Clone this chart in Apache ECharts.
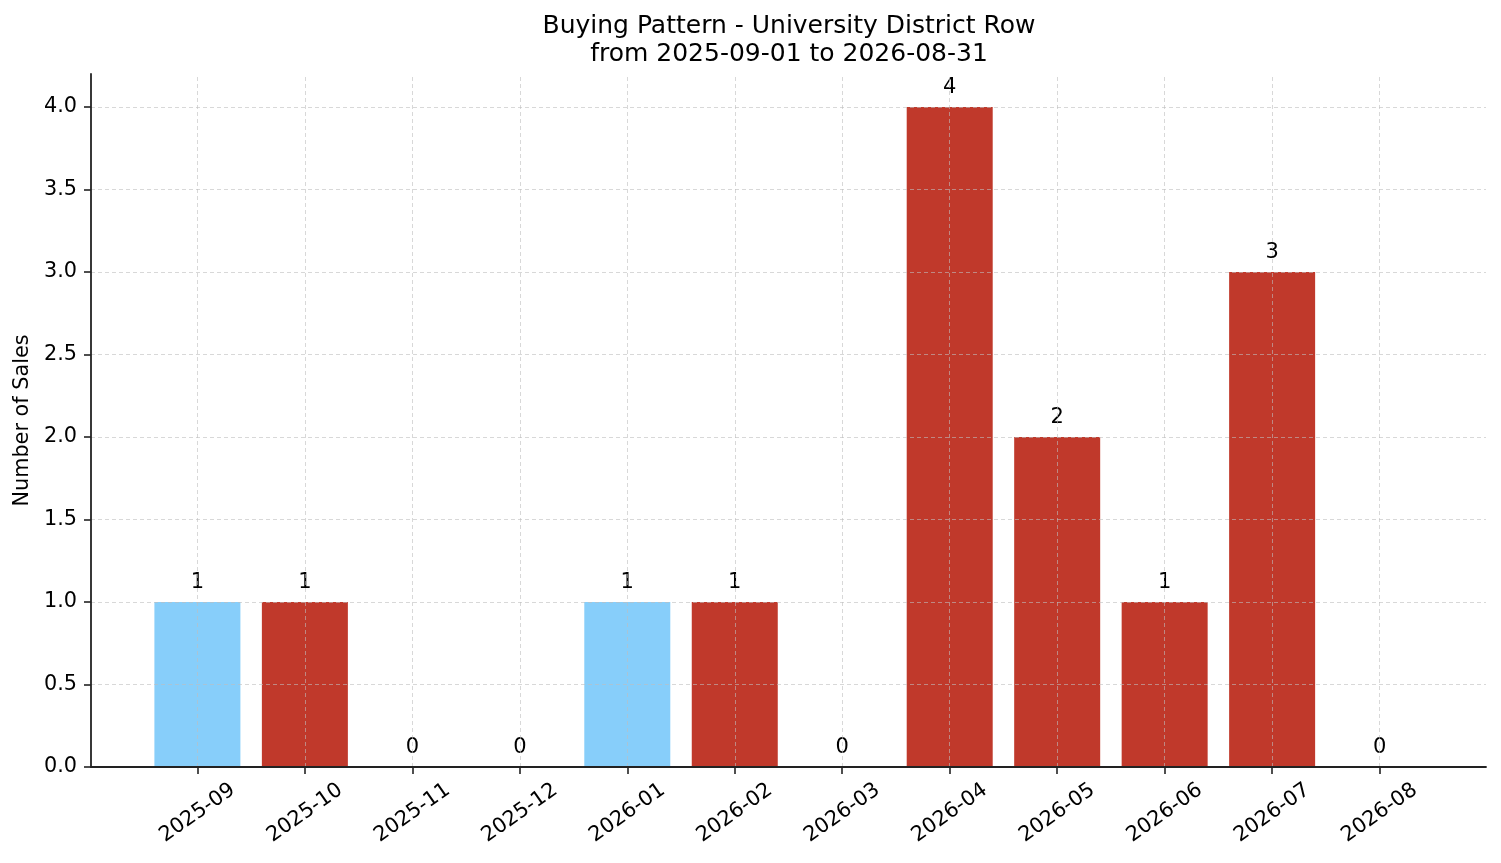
<!DOCTYPE html>
<html>
<head>
<meta charset="utf-8">
<script src="https://cdn.jsdelivr.net/npm/echarts@6/dist/echarts.min.js"></script>
<style>
 html, body { margin: 0; padding: 0; background: #fff; }
 #container { width: 1501px; height: 863px; }
</style>
</head>
<body>
<div id="container"></div>
<script>
 // data
 var months = ['2025-09', '2025-10', '2025-11', '2025-12', '2026-01', '2026-02',
               '2026-03', '2026-04', '2026-05', '2026-06', '2026-07', '2026-08'];
 var sales = [1, 1, 0, 0, 1, 1, 0, 4, 2, 1, 3, 0];
 var blueMonths = ['2025-09', '2026-01'];
 var yTicks = [0, 0.5, 1, 1.5, 2, 2.5, 3, 3.5, 4];

 var dom = document.getElementById("container");
 var myChart = echarts.init(dom);
 var FONT = 'DejaVu Sans';

 var xIdx = months.map(function (m, i) { return i; });

 var barData = sales.map(function (v, i) {
     return {
         value: [i, v],
         itemStyle: { color: blueMonths.indexOf(months[i]) >= 0 ? '#87CEFA' : '#C0392B' }
     };
 });

 //grid lines drawn over the bars, like matplotlib
 var gridLines = xIdx.map(function (i) { return { xAxis: i }; })
     .concat(yTicks.filter(function (v) { return v > 0; }).map(function (v) { return { yAxis: v }; }));

 var option = {
    backgroundColor: '#fff',
    animation: false,
    textStyle: { fontFamily: FONT },
    title: {
        text: 'Buying Pattern - University District Row\nfrom 2025-09-01 to 2026-08-31',
        left: 784,
        top: 7,
        textAlign: 'center',
        textStyle: {
            fontFamily: FONT,
            fontSize: 25,
            lineHeight: 28,
            fontWeight: 'normal',
            color: '#000'
        }
    },
    grid: {
        left: 91,
        right: 15,
        top: 74,
        bottom: 96
    },
    xAxis: {
        type: 'value',
        min: -0.99,
        max: 11.99,
        z: 10,
        splitLine: { show: false },
        axisLine: { show: true, onZero: false, lineStyle: { color: '#222', width: 1.8 } },
        axisTick: {
            show: true,
            customValues: xIdx,
            length: 7,
            lineStyle: { color: '#222', width: 1.6 }
        },
        axisLabel: {
            customValues: xIdx,
            formatter: function (v) { return months[Math.round(v)]; },
            rotate: 35,
            align: 'center',
            verticalAlign: 'middle',
            margin: 46,
            fontFamily: FONT,
            fontSize: 20.8,
            color: '#000'
        }
    },
    yAxis: {
        type: 'value',
        min: 0,
        max: 4.2,
        z: 10,
        name: 'Number of Sales',
        nameLocation: 'middle',
        nameRotate: 90,
        nameGap: 52,
        nameTextStyle: { fontFamily: FONT, fontSize: 20.8, color: '#000' },
        splitLine: { show: false },
        axisLine: { show: true, onZero: false, lineStyle: { color: '#222', width: 1.8 } },
        axisTick: {
            show: true,
            customValues: yTicks,
            length: 7,
            lineStyle: { color: '#222', width: 1.6 }
        },
        axisLabel: {
            customValues: yTicks,
            formatter: function (v) { return v.toFixed(1); },
            margin: 14,
            fontFamily: FONT,
            fontSize: 20.8,
            color: '#000'
        }
    },
    series: [
        {
            type: 'bar',
            data: barData,
            barWidth: 86,
            z: 2,
            label: {
                show: true,
                position: 'top',
                distance: 9,
                formatter: function (p) { return p.value[1]; },
                fontFamily: FONT,
                fontSize: 21,
                color: '#000'
            }
        },
        {
            type: 'line',
            data: [],
            z: 5,
            markLine: {
                silent: true,
                symbol: 'none',
                label: { show: false },
                lineStyle: { color: 'rgba(190,190,190,0.6)', type: [4, 3], width: 1 },
                data: gridLines
            }
        }
    ]
 };

 myChart.setOption(option, true);
</script>
</body>
</html>
